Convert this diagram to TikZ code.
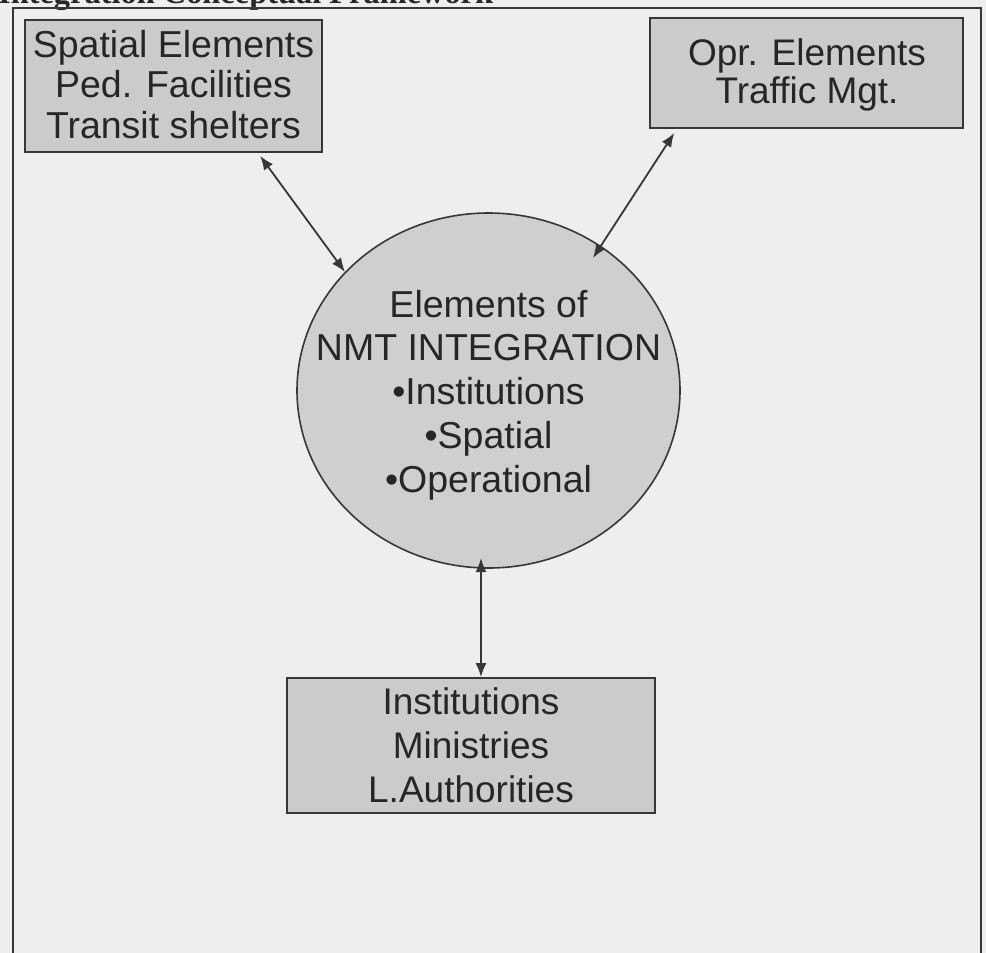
\documentclass[tikz,border=0pt]{standalone}
\usepackage{fontspec}
\setmainfont{Liberation Sans}
\newfontfamily\titlefont{Liberation Serif}
\usetikzlibrary{arrows.meta,calc,shapes.geometric}
\definecolor{pagebg}{RGB}{238,238,238}
\definecolor{boxfill}{RGB}{203,203,203}
\definecolor{circfill}{RGB}{207,207,207}
\definecolor{linecol}{RGB}{55,55,55}
\definecolor{textcol}{RGB}{38,38,38}
\tikzset{
  boxnode/.style={draw=linecol, line width=1.8pt, fill=boxfill, rectangle, inner sep=0pt},
  txt/.style={text=textcol, align=center, inner sep=0pt},
  link/.style={draw=linecol, line width=1.8pt, {Latex[length=14pt,width=11pt]}-{Latex[length=14pt,width=11pt]}},
}
\begin{document}
\begin{tikzpicture}[x=1pt,y=-1pt]
\useasboundingbox (0,0) rectangle (986,953);
\fill[pagebg] (0,0) rectangle (986,953);
% partially visible title
\node[anchor=base west, inner sep=0pt, text=textcol, font=\titlefont\bfseries\fontsize{32.4}{36}\selectfont] (title) at (-2,4) {Integration Conceptual Framework};
% frame
\draw[linecol, line width=2.2pt] (13,958) -- (13,8) -- (981,8) -- (981,958);
% boxes
\node[boxnode, minimum width=297pt, minimum height=132pt] (sp) at (173.5,86) {};
\node[txt, font=\fontsize{37.5}{40.5}\selectfont] (sptext) at (173.5,84.5) {Spatial Elements\\Ped. Facilities\\Transit shelters};
\node[boxnode, minimum width=313pt, minimum height=110pt] (op) at (806.5,73) {};
\node[txt, font=\fontsize{37}{38}\selectfont] (optext) at (807,74.5) {Opr. Elements\\Traffic Mgt.};
\node[boxnode, minimum width=368pt, minimum height=135pt] (in) at (471,745.5) {};
\node[txt, font=\fontsize{37}{44}\selectfont] (intext) at (471,745.5) {Institutions\\Ministries\\L.Authorities};
% circle
\node[ellipse, draw=linecol, line width=1.6pt, fill=circfill, minimum width=383pt, minimum height=355pt, inner sep=0pt] (circ) at (488.5,390.5) {};
\node[txt, font=\fontsize{37.5}{43.75}\selectfont] (circtext) at (488.5,395) {Elements of\\NMT INTEGRATION\\\textbullet Institutions\\\textbullet Spatial\\\textbullet Operational};
% connectors
\coordinate (spend) at ($(sp.south west)!0.79!(sp.south east)+(0,3)$);
\coordinate (opend) at ($(op.south west)!0.08!(op.south east)+(0,4)$);
\coordinate (cSP) at (345,272);
\coordinate (cOP) at (593,258);
\coordinate (cIN) at (481,558);
\coordinate (inend) at (in.north -| cIN);
\draw[link] (spend) -- (cSP);
\draw[link] (opend) -- (cOP);
\draw[link] (cIN) -- (inend);
\end{tikzpicture}
\end{document}
